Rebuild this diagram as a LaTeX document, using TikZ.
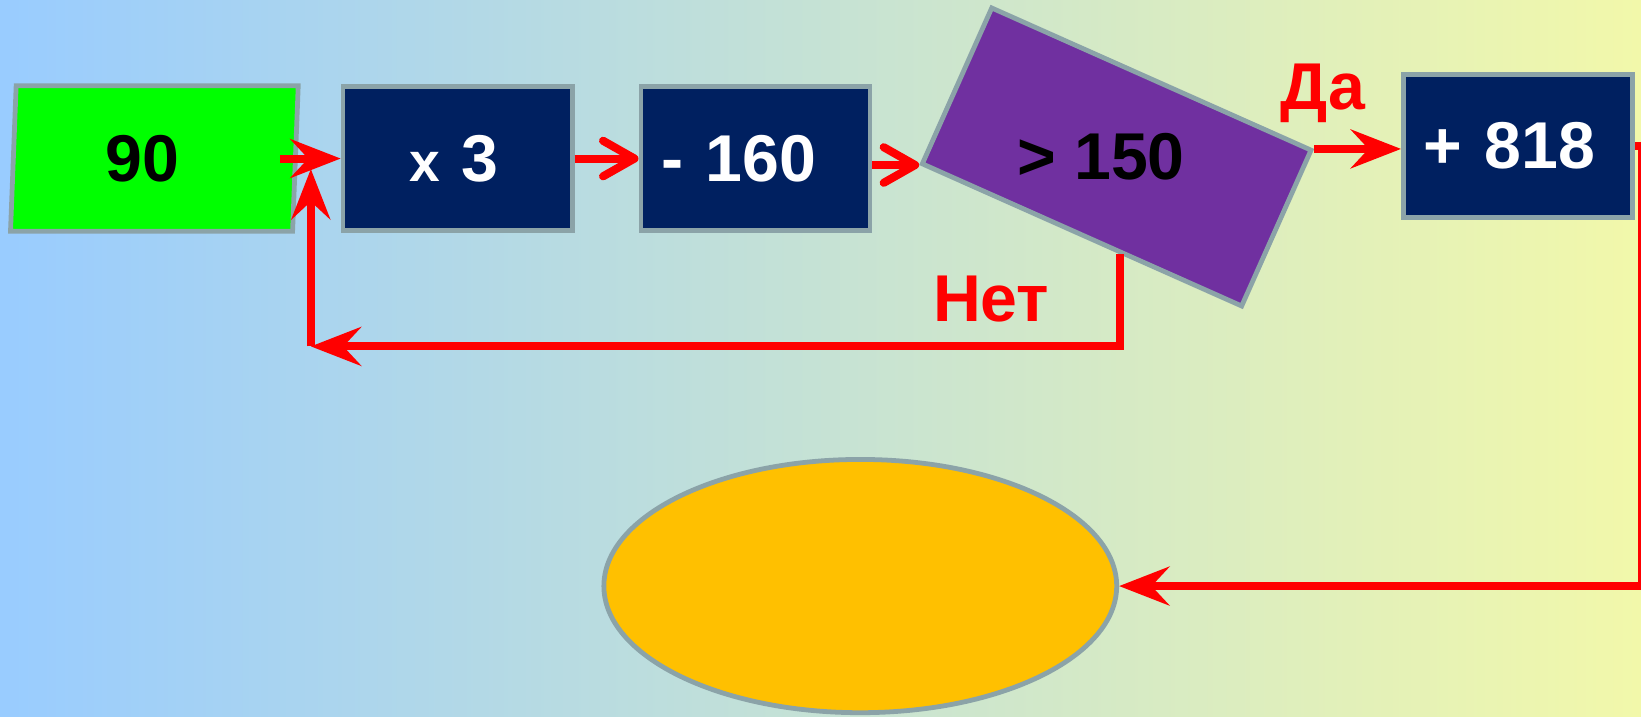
\documentclass[tikz,border=0pt]{standalone}
\usepackage{fontspec}
\setmainfont{Liberation Sans}
\usepackage{xcolor}
\usepackage{graphicx}
\usepackage{tikz}
\usetikzlibrary{shapes.geometric, arrows.meta, positioning, calc}
\definecolor{rim}{RGB}{139,163,168}
\definecolor{navy}{RGB}{0,32,96}
\definecolor{plum}{RGB}{112,48,160}
\definecolor{amber}{RGB}{255,192,0}
\definecolor{skyl}{RGB}{153,204,255}
\definecolor{paley}{RGB}{242,248,170}
\tikzstyle{io} = [trapezium, trapezium left angle=88, trapezium right angle=92, trapezium stretches=true, minimum width=2.75cm, minimum height=1.39cm, align=left, draw=rim, line width=1.3pt, fill=green, text=black]
\tikzstyle{op} = [rectangle, draw=rim, line width=1.3pt, fill=navy, text=white, minimum width=2.19cm, minimum height=1.37cm, align=left]
\tikzstyle{decision} = [rectangle, draw=rim, line width=1.3pt, fill=plum, text=black, minimum width=3.34cm, minimum height=1.63cm, rotate=-24]
\tikzstyle{terminal} = [ellipse, draw=rim, line width=1.3pt, fill=amber, minimum width=4.9cm, minimum height=2.42cm]
\tikzstyle{arrow} = [red, line width=2.2pt, -{Stealth[length=4.8mm, width=3.7mm, inset=1.7mm]}]
\tikzstyle{barb} = [red, line width=2.2pt, -{Straight Barb[round, length=3mm, width=3.4mm]}]
\tikzstyle{lbl} = [text=red]

\begin{document}
\begin{tikzpicture}[font=\bfseries\fontsize{18}{20}\selectfont]
        \fill[left color=skyl, right color=paley] (0,0) rectangle (15.68,-6.85);
        \useasboundingbox (0,0) rectangle (15.68,-6.85);

        \node (in) [io, text width=0.93cm] at (1.475,-1.515) {90};
        \node (x3) [op, right=0.41cm of in, text width=0.93cm] {{\fontsize{15}{15}\selectfont x} 3};
        \node (m160) [op, right=0.61cm of x3, text width=1.8cm] {- 160};
        \node (cond) [decision] at (10.67,-1.50) {\rotatebox{24}{\makebox[1.9cm][l]{> 150}}};
        \node (p818) [op, text width=1.8cm] at (14.505,-1.395) {+ 818};
        \node (fin) [terminal] at (8.22,-5.60) {};

        \node (yes) [lbl, anchor=base] at (12.64,-1.05) {Да};
        \node (no) [lbl, anchor=base] at (9.47,-3.07) {Нет};

        \draw[arrow] ([xshift=-1.7mm]in.east) -- (x3.west);
        \draw[barb] (x3.east) -- (m160.west);
        \draw[barb] (cond.south west -| m160.east) -- (cond.south west);
        \draw[arrow] (cond.north east) -- (cond.north east -| p818.west);

        % loop back when the test fails
        \coordinate (nb) at ($(cond.south west)!0.62!(cond.south east)$);
        \coordinate (back) at (2.97,-3.31);
        \draw[arrow] (nb) |- (back);
        \draw[arrow] (back) -- ($(back |- in.east)+(0,-0.1)$);

        \coordinate (edge) at (15.69,-5.60);
        \draw[arrow] (p818.east) -| (edge) -- (fin.east);
    \end{tikzpicture}
\end{document}
